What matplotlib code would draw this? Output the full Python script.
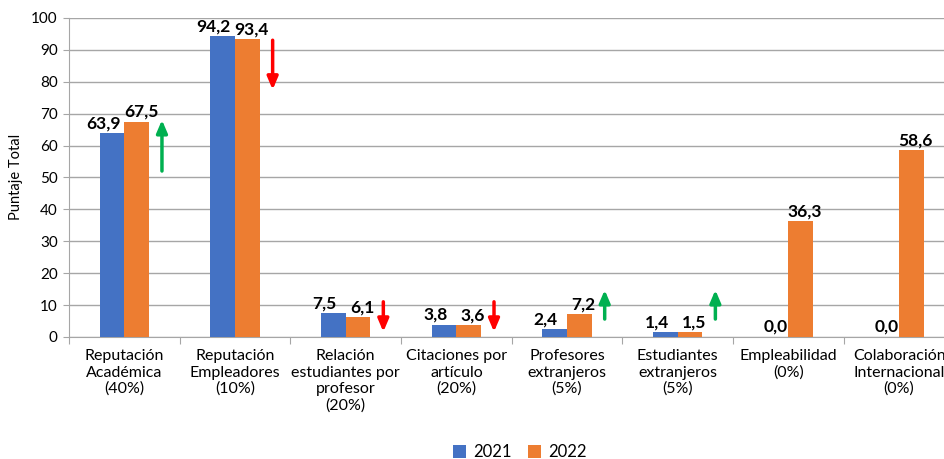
import matplotlib.pyplot as plt
import numpy as np

plt.rcParams['font.family'] = ['Lato', 'DejaVu Sans']

categories = ["Reputación\nAcadémica\n(40%)", "Reputación\nEmpleadores\n(10%)",
              "Relación\nestudiantes por\nprofesor\n(20%)", "Citaciones por\nartículo\n(20%)",
              "Profesores\nextranjeros\n(5%)", "Estudiantes\nextranjeros\n(5%)",
              "Empleabilidad\n(0%)", "Colaboración\nInternacional\n(0%)"]
v2021 = [63.9, 94.2, 7.5, 3.8, 2.4, 1.4, 0.0, 0.0]
v2022 = [67.5, 93.4, 6.1, 3.6, 7.2, 1.5, 36.3, 58.6]
# trend arrows: (start, end) in y units, None = no arrow
arrow_from = [52, 93, 11, 11, 5.6, 5.6, None, None]
arrow_to = [68, 77.5, 1.6, 1.6, 14.7, 14.7, None, None]

blue = '#4472C4'
orange = '#ED7D31'

fig = plt.figure(figsize=(9.45, 4.59), dpi=100)
ax = fig.add_axes([0.073, 0.266, 0.937, 0.695])

x = np.arange(len(categories))
w = 0.222
ax.bar(x - w/2, v2021, w, color=blue, label='2021', zorder=3)
ax.bar(x + w/2, v2022, w, color=orange, label='2022', zorder=3)

for i in x:
    dx = -0.08 if v2021[i] > 0 else 0
    ax.text(i - w/2 + dx, v2021[i] + 0.6, f"{v2021[i]:.1f}".replace('.', ','),
            ha='center', va='bottom', fontsize=12.5, fontweight='bold', zorder=4)
    ax.text(i + w/2 + 0.04, v2022[i] + 0.6, f"{v2022[i]:.1f}".replace('.', ','),
            ha='center', va='bottom', fontsize=12.5, fontweight='bold', zorder=4)
    if arrow_from[i] is not None:
        col = '#00B050' if arrow_to[i] > arrow_from[i] else '#FF0000'
        ax.annotate('', xy=(i + 0.34, arrow_to[i]), xytext=(i + 0.34, arrow_from[i]),
                    arrowprops=dict(arrowstyle='-|>,head_length=0.75,head_width=0.32',
                                    color=col, lw=2.5, shrinkA=0, shrinkB=0), zorder=5)

ax.set_xlim(-0.5, len(categories) - 0.5)
ax.set_ylim(0, 100)
ax.set_yticks(np.arange(0, 101, 10))
ax.yaxis.grid(True, color='#A6A6A6', lw=1, zorder=0)
ax.set_xticks(np.arange(-0.5, len(categories), 1))
ax.set_xticklabels([])
ax.set_xticks(x, minor=True)
ax.set_xticklabels(categories, minor=True, fontsize=11.5, linespacing=1.2)
ax.tick_params(axis='x', which='major', length=5, color='#A6A6A6')
ax.tick_params(axis='x', which='minor', length=0, pad=9)
ax.tick_params(axis='y', length=4, color='#A6A6A6', labelsize=11, pad=4)
for s in ['top', 'right']:
    ax.spines[s].set_visible(False)
ax.spines['left'].set_color('#A6A6A6')
ax.spines['bottom'].set_color('#A6A6A6')
ax.set_ylabel('Puntaje Total', fontsize=10.5, labelpad=6)

fig.legend(loc='lower center', bbox_to_anchor=(0.55, -0.035), ncol=2, frameon=False,
           fontsize=12, handlelength=0.8, handleheight=0.8, handletextpad=0.4, columnspacing=1.0)

fig.savefig('out.png', dpi=100)
